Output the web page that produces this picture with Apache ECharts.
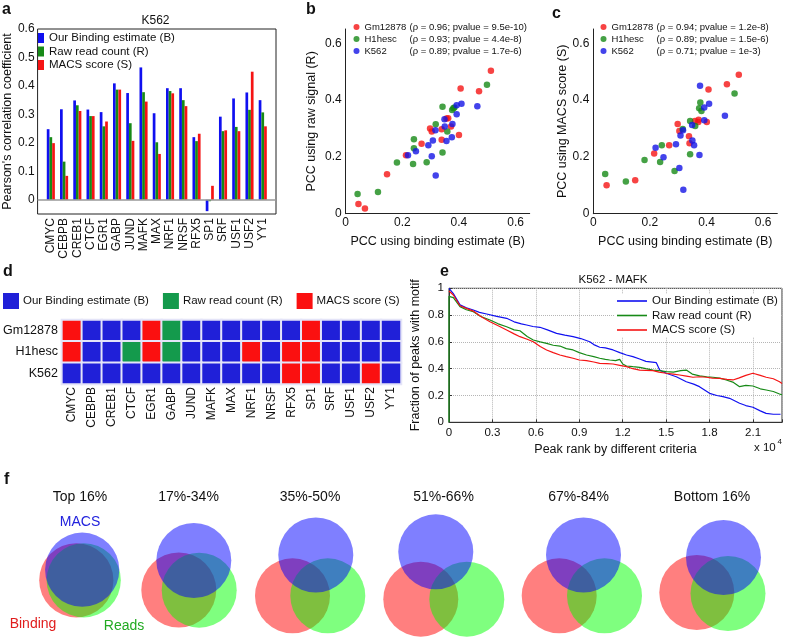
<!DOCTYPE html>
<html><head><meta charset="utf-8">
<script src="https://cdn.jsdelivr.net/npm/echarts/dist/echarts.min.js"></script>
<style>html,body{margin:0;padding:0;background:#fff}#c{width:785px;height:637px}</style>
</head><body><div id="c"></div>
<script>
// ---------- data ----------
const tfNames = ['CMYC','CEBPB','CREB1','CTCF','EGR1','GABP','JUND','MAFK','MAX','NRF1','NRSF','RFX5','SP1','SRF','USF1','USF2','YY1'];
const methodNames = ['Our Binding estimate (B)','Raw read count (R)','MACS score (S)'];
const k562Binding = [0.248,0.318,0.349,0.317,0.308,0.409,0.375,0.465,0.304,0.392,0.392,0.220,-0.040,0.292,0.356,0.377,0.350];
const k562Raw     = [0.220,0.134,0.332,0.294,0.258,0.387,0.269,0.378,0.202,0.382,0.350,0.206,-0.005,0.241,0.256,0.316,0.307];
const k562Macs    = [0.199,0.084,0.312,0.294,0.275,0.387,0.207,0.345,0.161,0.374,0.329,0.232,0.049,0.244,0.241,0.450,0.258];

const cellLines = ['Gm12878','H1hesc','K562'];
const rhoTextB = ['(\u03c1 = 0.96; pvalue = 9.5e-10)','(\u03c1 = 0.93; pvalue = 4.4e-8)','(\u03c1 = 0.89; pvalue = 1.7e-6)'];
const rhoTextC = ['(\u03c1 = 0.94; pvalue = 1.2e-8)','(\u03c1 = 0.89; pvalue = 1.5e-6)','(\u03c1 = 0.71; pvalue = 1e-3)'];
const gmBvsR = [[0.045,0.034],[0.068,0.018],[0.146,0.139],[0.213,0.206],[0.268,0.246],[0.298,0.300],[0.304,0.289],[0.339,0.260],[0.339,0.297],[0.356,0.335],[0.362,0.336],[0.372,0.307],[0.400,0.277],[0.406,0.441],[0.471,0.431],[0.513,0.503]];
const h1BvsR = [[0.042,0.069],[0.114,0.076],[0.181,0.180],[0.238,0.175],[0.241,0.262],[0.241,0.230],[0.286,0.181],[0.318,0.315],[0.342,0.376],[0.342,0.215],[0.359,0.289],[0.376,0.365],[0.380,0.371],[0.384,0.374],[0.499,0.454]];
const gmBvsS = [[0.047,0.100],[0.148,0.118],[0.215,0.212],[0.268,0.241],[0.298,0.316],[0.304,0.291],[0.338,0.273],[0.340,0.248],[0.359,0.326],[0.371,0.323],[0.372,0.331],[0.401,0.323],[0.407,0.437],[0.472,0.456],[0.514,0.489]];
const h1BvsS = [[0.042,0.140],[0.115,0.113],[0.181,0.189],[0.236,0.182],[0.242,0.241],[0.287,0.150],[0.316,0.298],[0.342,0.326],[0.342,0.209],[0.360,0.309],[0.374,0.371],[0.378,0.391],[0.382,0.361],[0.499,0.423]];

// best method per TF (0 = B, 1 = R, 2 = S)
const bestGm12878 = [2,0,0,0,2,1,0,0,0,0,0,0,2,0,0,0,0];
const bestH1hesc  = [2,0,0,1,2,1,0,0,0,2,0,2,2,0,0,0,0];
const bestK562    = [0,0,0,0,0,0,0,0,0,0,0,2,2,0,0,2,0];

// motif fraction vs peak rank (rank in units of 1e4)
const motifBinding = [[0,1.0],[0.03,0.96],[0.076,0.876],[0.12,0.855],[0.168,0.838],[0.21,0.82],[0.26,0.808],[0.33,0.79],[0.398,0.776],[0.45,0.75],[0.5,0.735],[0.536,0.726],[0.58,0.715],[0.628,0.709],[0.68,0.69],[0.743,0.664],[0.8,0.65],[0.857,0.639],[0.91,0.625],[0.972,0.601],[1.0,0.58],[1.041,0.56],[1.08,0.555],[1.133,0.54],[1.18,0.52],[1.226,0.502],[1.27,0.49],[1.317,0.472],[1.36,0.455],[1.432,0.445],[1.455,0.39],[1.5,0.366],[1.57,0.34],[1.639,0.303],[1.69,0.285],[1.73,0.266],[1.8,0.216],[1.85,0.2],[1.892,0.191],[1.938,0.179],[2.007,0.142],[2.05,0.125],[2.099,0.112],[2.15,0.085],[2.19,0.067],[2.24,0.06],[2.29,0.06]];
const motifRaw = [[0,0],[0,0.94],[0.03,0.93],[0.076,0.863],[0.12,0.84],[0.168,0.825],[0.22,0.79],[0.283,0.763],[0.34,0.735],[0.398,0.713],[0.45,0.69],[0.49,0.683],[0.54,0.64],[0.582,0.614],[0.63,0.6],[0.674,0.589],[0.72,0.575],[0.766,0.569],[0.81,0.55],[0.857,0.54],[0.9,0.52],[0.95,0.502],[1.0,0.49],[1.041,0.478],[1.08,0.47],[1.11,0.465],[1.15,0.46],[1.179,0.47],[1.2,0.435],[1.226,0.42],[1.27,0.415],[1.317,0.41],[1.36,0.4],[1.409,0.39],[1.45,0.385],[1.5,0.378],[1.55,0.375],[1.6,0.385],[1.639,0.39],[1.68,0.36],[1.731,0.346],[1.78,0.34],[1.823,0.336],[1.87,0.33],[1.915,0.316],[1.96,0.3],[2.007,0.266],[2.05,0.275],[2.099,0.271],[2.15,0.25],[2.191,0.241],[2.24,0.23],[2.283,0.211],[2.3,0.205]];
const motifMacs = [[0,0.98],[0.03,0.95],[0.076,0.87],[0.12,0.85],[0.168,0.83],[0.22,0.79],[0.283,0.751],[0.34,0.72],[0.398,0.689],[0.45,0.66],[0.49,0.639],[0.54,0.62],[0.582,0.601],[0.63,0.565],[0.674,0.54],[0.72,0.52],[0.766,0.502],[0.81,0.49],[0.857,0.478],[0.9,0.465],[0.95,0.46],[1.0,0.45],[1.041,0.44],[1.09,0.438],[1.133,0.435],[1.18,0.425],[1.226,0.415],[1.27,0.4],[1.317,0.39],[1.36,0.388],[1.409,0.385],[1.45,0.375],[1.5,0.366],[1.55,0.36],[1.593,0.353],[1.64,0.345],[1.685,0.336],[1.73,0.34],[1.777,0.336],[1.82,0.33],[1.869,0.328],[1.92,0.32],[1.961,0.316],[2.0,0.33],[2.05,0.35],[2.099,0.366],[2.15,0.35],[2.191,0.336],[2.24,0.325],[2.283,0.303],[2.3,0.29]];

// Venn diagrams: [cx, cy, r] in circle-radius units
const vennTitles = ['Top 16%','17%-34%','35%-50%','51%-66%','67%-84%','Bottom 16%'];
const vennBinding = [[2.035,1.512,0.99],[4.768,1.253,1],[7.8,1.099,1],[11.221,1.008,1],[14.912,1.099,1],[18.581,1.187,1]];
const vennReads   = [[2.232,1.512,0.99],[5.312,1.248,1],[8.741,1.099,1],[12.448,1.008,1],[16.12,1.099,1],[19.413,1.16,1]];
const vennMacs    = [[2.192,1.795,0.99],[5.168,2.04,1],[8.421,2.187,1],[11.621,2.272,1],[15.56,2.187,1],[19.293,2.12,1]];

// ---------- styling ----------
const FONT = '"Liberation Sans", Arial, sans-serif';
const COL = ['#1010f0', '#178a17', '#f51414'];
const HEAT = ['#2020d8', '#149a4c', '#fb1010'];
const TXT = '#111';

const pad = a => ['-', ...a, '-'];
const fmtStep = step => v => {
  const k = v / step;
  return Math.abs(k - Math.round(k)) < 1e-6 ? String(Math.round(v * 10) / 10) : '';
};

const heatData = [];
[bestGm12878, bestH1hesc, bestK562].forEach((row, r) => row.forEach((v, c) => heatData.push([c, r, v])));

const circleSeries = (name, data, color) => ({
  type: 'custom', name, xAxisIndex: 5, yAxisIndex: 5, silent: true, data,
  renderItem: (params, api) => {
    const c = api.coord([api.value(0), api.value(1)]);
    const r = api.size([api.value(2), 0])[0];
    return { type: 'circle', shape: { cx: c[0], cy: c[1], r }, style: { fill: color } };
  }
});

const scatterStyle = (name, data, color, g) => ({
  type: 'scatter', name, data, xAxisIndex: g, yAxisIndex: g, symbolSize: 6.5, clip: true,
  itemStyle: { color }
});

const rhoLegend = (left, texts) => ({
  data: cellLines, orient: 'vertical', left, top: 22, icon: 'circle', itemWidth: 6, itemHeight: 6,
  itemGap: 2, padding: 0, selectedMode: false,
  formatter: n => '{n|' + n + '}{r|' + texts[cellLines.indexOf(n)] + '}',
  textStyle: { fontFamily: FONT, fontSize: 9.5, color: TXT,
    rich: { n: { width: 45, fontFamily: FONT, fontSize: 9.5, color: TXT }, r: { fontFamily: FONT, fontSize: 9.5, color: TXT } } }
});

const axisName = { fontFamily: FONT, fontSize: 12.5, color: TXT };
const lab = (extra) => Object.assign({ fontFamily: FONT, fontSize: 12, color: TXT }, extra);

const option = {
  animation: false,
  backgroundColor: '#fff',
  textStyle: { fontFamily: FONT },
  grid: [
    { left: 35, top: 29, width: 241, height: 185, show: true, borderColor: '#222', borderWidth: 1 },
    { left: 345.7, top: 29, width: 184, height: 184.7 },
    { left: 593.3, top: 29, width: 184, height: 184.7 },
    { left: 61, top: 320, width: 340, height: 64 },
    { left: 449, top: 288.3, width: 333.5, height: 134, show: true, borderColor: '#333', borderWidth: 1 },
    { left: 0, top: 400, width: 785, height: 237 }
  ],
  xAxis: [
    { type: 'category', gridIndex: 0, data: ['', ...tfNames, ''], boundaryGap: false,
      axisLine: { show: false }, axisTick: { show: false }, splitLine: { show: false },
      axisLabel: lab({ rotate: 90, interval: 0, margin: 4 }) },
    { type: 'value', gridIndex: 1, min: 0, max: 0.65, interval: 0.2,
      axisLine: { lineStyle: { color: '#222' } }, axisTick: { show: false }, splitLine: { show: false },
      axisLabel: lab({ formatter: fmtStep(0.2), margin: 3 }),
      name: 'PCC using binding estimate (B)', nameLocation: 'middle', nameGap: 21, nameTextStyle: axisName },
    { type: 'value', gridIndex: 2, min: 0, max: 0.65, interval: 0.2,
      axisLine: { lineStyle: { color: '#222' } }, axisTick: { show: false }, splitLine: { show: false },
      axisLabel: lab({ formatter: fmtStep(0.2), margin: 3 }),
      name: 'PCC using binding estimate (B)', nameLocation: 'middle', nameGap: 21, nameTextStyle: axisName },
    { type: 'category', gridIndex: 3, data: tfNames,
      axisLine: { show: false }, axisTick: { show: false }, splitLine: { show: false },
      axisLabel: lab({ rotate: 90, interval: 0, margin: 3 }) },
    { type: 'value', gridIndex: 4, min: 0, max: 2.3, interval: 0.3,
      axisLine: { lineStyle: { color: '#333' } },
      axisTick: { show: true, inside: true, length: 3, lineStyle: { color: '#333' } },
      splitLine: { show: true, lineStyle: { color: '#b5b5b5', type: 'dotted' } },
      axisLabel: lab({ formatter: fmtStep(0.3), margin: 5, fontSize: 11.5 }),
      name: 'Peak rank by different criteria', nameLocation: 'middle', nameGap: 21, nameTextStyle: axisName },
    { type: 'value', gridIndex: 5, min: 0, max: 785 / 37.5, show: false }
  ],
  yAxis: [
    { type: 'value', gridIndex: 0, min: -0.05, max: 0.6, interval: 0.05,
      axisLine: { show: false }, axisTick: { show: false }, splitLine: { show: false },
      axisLabel: lab({ formatter: fmtStep(0.1), margin: 3 }),
      name: "Pearson's correlation coefficient", nameLocation: 'middle', nameGap: 20, nameTextStyle: axisName },
    { type: 'value', gridIndex: 1, min: 0, max: 0.65, interval: 0.2,
      axisLine: { show: true, lineStyle: { color: '#222' } }, axisTick: { show: false }, splitLine: { show: false },
      axisLabel: lab({ formatter: fmtStep(0.2), margin: 4 }),
      name: 'PCC using raw signal (R)', nameLocation: 'middle', nameGap: 28, nameTextStyle: axisName },
    { type: 'value', gridIndex: 2, min: 0, max: 0.65, interval: 0.2,
      axisLine: { show: true, lineStyle: { color: '#222' } }, axisTick: { show: false }, splitLine: { show: false },
      axisLabel: lab({ formatter: fmtStep(0.2), margin: 4 }),
      name: 'PCC using MACS score (S)', nameLocation: 'middle', nameGap: 21, nameTextStyle: axisName },
    { type: 'category', gridIndex: 3, data: cellLines, inverse: true,
      axisLine: { show: false }, axisTick: { show: false }, splitLine: { show: false },
      axisLabel: lab({ fontSize: 12.5, margin: 4 }) },
    { type: 'value', gridIndex: 4, min: 0, max: 1, interval: 0.2,
      axisLine: { show: true, lineStyle: { color: '#333' } },
      axisTick: { show: true, inside: true, length: 3, lineStyle: { color: '#333' } },
      splitLine: { show: true, lineStyle: { color: '#b5b5b5', type: 'dotted' } },
      axisLabel: lab({ formatter: fmtStep(0.2), margin: 5, fontSize: 11.5 }),
      name: 'Fraction of peaks with motif', nameLocation: 'middle', nameGap: 27, nameTextStyle: axisName },
    { type: 'value', gridIndex: 5, min: 0, max: 237 / 37.5, show: false }
  ],
  legend: [
    { data: methodNames, orient: 'vertical', left: 38, top: 32, icon: 'rect', itemWidth: 6, itemHeight: 10,
      itemGap: 1.5, padding: 0, selectedMode: false,
      textStyle: { fontFamily: FONT, fontSize: 11.5, color: TXT } },
    rhoLegend(353.5, rhoTextB),
    rhoLegend(600.5, rhoTextC),
    { data: methodNames, orient: 'vertical', left: 614, top: 294, icon: 'rect', itemWidth: 30, itemHeight: 1.6,
      itemGap: 2.5, padding: [1, 3, 1, 3], backgroundColor: '#fff', selectedMode: false,
      textStyle: { fontFamily: FONT, fontSize: 11.5, color: TXT } }
  ],
  visualMap: [{
    type: 'piecewise', seriesIndex: 9, orient: 'horizontal', left: 3, top: 293,
    itemWidth: 16, itemHeight: 16, itemGap: 14, textGap: 4, align: 'left', itemSymbol: 'rect',
    selectedMode: false, padding: 0,
    pieces: methodNames.map((m, i) => ({ value: i, label: m, color: HEAT[i] })),
    textStyle: { fontFamily: FONT, fontSize: 11.5, color: TXT }
  }],
  series: [
    { type: 'bar', name: methodNames[0], xAxisIndex: 0, yAxisIndex: 0, data: pad(k562Binding), barWidth: 2.7, barGap: '0%',
      itemStyle: { color: COL[0] },
      markLine: { silent: true, symbol: ['none', 'none'], label: { show: false },
        lineStyle: { color: '#999', width: 1.5, type: 'solid' }, data: [{ yAxis: 0 }] } },
    { type: 'bar', name: methodNames[1], xAxisIndex: 0, yAxisIndex: 0, data: pad(k562Raw), barWidth: 2.7, barGap: '0%',
      itemStyle: { color: COL[1] } },
    { type: 'bar', name: methodNames[2], xAxisIndex: 0, yAxisIndex: 0, data: pad(k562Macs), barWidth: 2.7, barGap: '0%',
      itemStyle: { color: COL[2] } },
    scatterStyle('Gm12878', gmBvsR, '#f51414', 1),
    scatterStyle('H1hesc', h1BvsR, '#178a17', 1),
    scatterStyle('K562', k562Binding.map((b, i) => [b, k562Raw[i]]), '#1414e6', 1),
    scatterStyle('Gm12878', gmBvsS, '#f51414', 2),
    scatterStyle('H1hesc', h1BvsS, '#178a17', 2),
    scatterStyle('K562', k562Binding.map((b, i) => [b, k562Macs[i]]), '#1414e6', 2),
    { type: 'heatmap', xAxisIndex: 3, yAxisIndex: 3, data: heatData,
      itemStyle: { borderColor: '#e4e4f8', borderWidth: 2 } },
    { type: 'line', name: methodNames[0], xAxisIndex: 4, yAxisIndex: 4, data: motifBinding, symbol: 'none',
      lineStyle: { color: COL[0], width: 1.2 }, itemStyle: { color: COL[0] } },
    { type: 'line', name: methodNames[1], xAxisIndex: 4, yAxisIndex: 4, data: motifRaw, symbol: 'none',
      lineStyle: { color: COL[1], width: 1.2 }, itemStyle: { color: COL[1] } },
    { type: 'line', name: methodNames[2], xAxisIndex: 4, yAxisIndex: 4, data: motifMacs, symbol: 'none',
      lineStyle: { color: COL[2], width: 1.2 }, itemStyle: { color: COL[2] } },
    circleSeries('Binding', vennBinding, 'rgba(255,0,0,0.5)'),
    circleSeries('Reads', vennReads, 'rgba(0,255,0,0.5)'),
    circleSeries('MACS', vennMacs, 'rgba(0,0,255,0.5)')
  ],
  graphic: []
};

const txt = (text, x, y, opts) => ({ type: 'text', x, y, silent: true,
  style: Object.assign({ text, fill: TXT, font: '12px ' + FONT, textAlign: 'center', textVerticalAlign: 'middle' }, opts || {}) });
const letterFont = 'bold 16px ' + FONT;
const vennX = [80, 188.5, 310, 443.5, 578.5, 712];
option.graphic = [
  txt('a', 2, 10, { font: letterFont, textAlign: 'left' }),
  txt('b', 306, 10, { font: letterFont, textAlign: 'left' }),
  txt('c', 552, 13.5, { font: letterFont, textAlign: 'left' }),
  txt('d', 3, 272, { font: letterFont, textAlign: 'left' }),
  txt('e', 440, 272, { font: letterFont, textAlign: 'left' }),
  txt('f', 4, 480, { font: letterFont, textAlign: 'left' }),
  txt('K562', 155.5, 21, { font: '12px ' + FONT }),
  txt('K562 - MAFK', 613, 280, { font: '11.5px ' + FONT }),
  txt('x 10', 754, 448, { font: '11.5px ' + FONT, textAlign: 'left' }),
  txt('4', 777.5, 442, { font: '8px ' + FONT, textAlign: 'left' }),
  ...vennTitles.map((t, i) => txt(t, vennX[i], 497, { font: '14px ' + FONT })),
  txt('MACS', 80, 522, { font: '14px ' + FONT, fill: '#2222dd' }),
  txt('Binding', 33, 624, { font: '14px ' + FONT, fill: '#e01c1c' }),
  txt('Reads', 124, 626, { font: '14px ' + FONT, fill: '#22aa22' })
];

const chart = echarts.init(document.getElementById('c'), null, { renderer: 'canvas' });
chart.setOption(option);
</script></body></html>
